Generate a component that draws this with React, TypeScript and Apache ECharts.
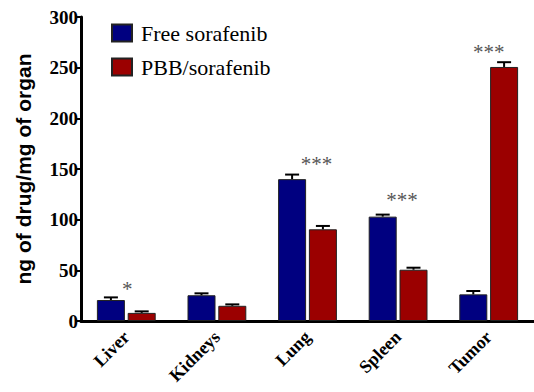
import React, { useEffect, useRef } from "react";
import * as echarts from "echarts";

const categories = ["Liver", "Kidneys", "Lung", "Spleen", "Tumor"];
const freeValues = [20.7, 25.4, 140, 103, 26.3];
const freeErrors = [2.6, 1.9, 4.5, 2, 3.3];
const pbbValues = [8, 15, 90.5, 50.6, 250.7];
const pbbErrors = [1.5, 1.4, 3.3, 2, 4.7];
const yTicks = { min: 0, max: 300, interval: 50 };
const sigCategory = [0, 2, 3, 4];
const sigValue = [32, 155, 119, 265];
const sigText = ["*", "***", "***", "***"];

const BLUE = "#000080";
const RED = "#9b0000";
const SERIF = "Liberation Serif";
const SANS = "Liberation Sans";

export default function App() {
  const ref = useRef<HTMLDivElement>(null);
  useEffect(() => {
    document.body.style.margin = "0";
    const chart = echarts.init(ref.current!, null, { renderer: "svg" });
    const sigDx = [1, 9, 4, 0];
    const errSeries = (name: string, vals: number[], errs: number[], off: number) => ({
      type: "custom",
      name: name + "-err",
      z: 5,
      data: vals.map((v, i) => [i, v, errs[i]]),
      renderItem: (params: any, api: any) => {
        const i = api.value(0);
        const v = api.value(1);
        const e = api.value(2);
        const p0 = api.coord([i, v]);
        const p1 = api.coord([i, v + e]);
        const x = p0[0] + off;
        return {
          type: "group",
          children: [
            { type: "line", shape: { x1: x, y1: p0[1], x2: x, y2: p1[1] }, style: { stroke: "#000", lineWidth: 2 } },
            { type: "line", shape: { x1: x - 7, y1: p1[1], x2: x + 7, y2: p1[1] }, style: { stroke: "#000", lineWidth: 2 } },
          ],
        };
      },
    });
    chart.setOption({
      animation: false,
      textStyle: { fontFamily: SERIF },
      grid: { left: 81, top: 17, width: 455, height: 304 },
      legend: {
        orient: "vertical",
        left: 106,
        top: 17,
        itemWidth: 20,
        itemHeight: 17,
        itemGap: 12,
        icon: "rect",
        data: ["Free sorafenib", "PBB/sorafenib"],
        textStyle: { fontFamily: SERIF, fontSize: 22, color: "#000", padding: [0, 0, 0, 4] },
      },
      xAxis: {
        type: "category",
        data: categories,
        axisLine: { lineStyle: { color: "#000", width: 3 } },
        axisTick: { alignWithLabel: true, length: 6, lineStyle: { color: "#000", width: 3 } },
        axisLabel: {
          rotate: 45,
          fontFamily: SERIF,
          fontWeight: "bold",
          fontSize: 18,
          color: "#000",
          margin: 13,
        },
      },
      yAxis: {
        type: "value",
        min: yTicks.min,
        max: yTicks.max,
        interval: yTicks.interval,
        name: "ng of drug/mg of organ",
        nameLocation: "middle",
        nameGap: 47,
        nameTextStyle: { fontFamily: SANS, fontWeight: "bold", fontSize: 21, color: "#000" },
        splitLine: { show: false },
        axisLine: { show: true, lineStyle: { color: "#000", width: 3 } },
        axisTick: { show: true, length: 5, lineStyle: { color: "#000", width: 2 } },
        axisLabel: {
          fontFamily: SERIF,
          fontWeight: "bold",
          fontSize: 19,
          color: "#000",
          margin: 3,
        },
      },
      series: [
        {
          type: "bar",
          name: "Free sorafenib",
          data: freeValues,
          barWidth: 28,
          barGap: "10%",
          itemStyle: { color: BLUE, borderColor: "#222", borderWidth: 1 },
        },
        {
          type: "bar",
          name: "PBB/sorafenib",
          data: pbbValues,
          barWidth: 28,
          barGap: "10%",
          itemStyle: { color: RED, borderColor: "#222", borderWidth: 1 },
        },
        errSeries("Free sorafenib", freeValues, freeErrors, -15.4),
        errSeries("PBB/sorafenib", pbbValues, pbbErrors, 15.4),
        {
          type: "custom",
          name: "sig",
          z: 6,
          data: sigCategory.map((c, k) => [c, sigValue[k], k]),
          renderItem: (params: any, api: any) => {
            const k = api.value(2);
            const p = api.coord([api.value(0), api.value(1)]);
            return {
              type: "text",
              x: p[0] + sigDx[k],
              y: p[1],
              style: {
                text: sigText[k],
                fill: "#555",
                fontFamily: SERIF,
                fontSize: 21,
                align: "center",
                verticalAlign: "middle",
              },
            };
          },
        },
      ],
    });
    return () => chart.dispose();
  }, []);
  return <div ref={ref} style={{ width: 534, height: 392 }} />;
}
